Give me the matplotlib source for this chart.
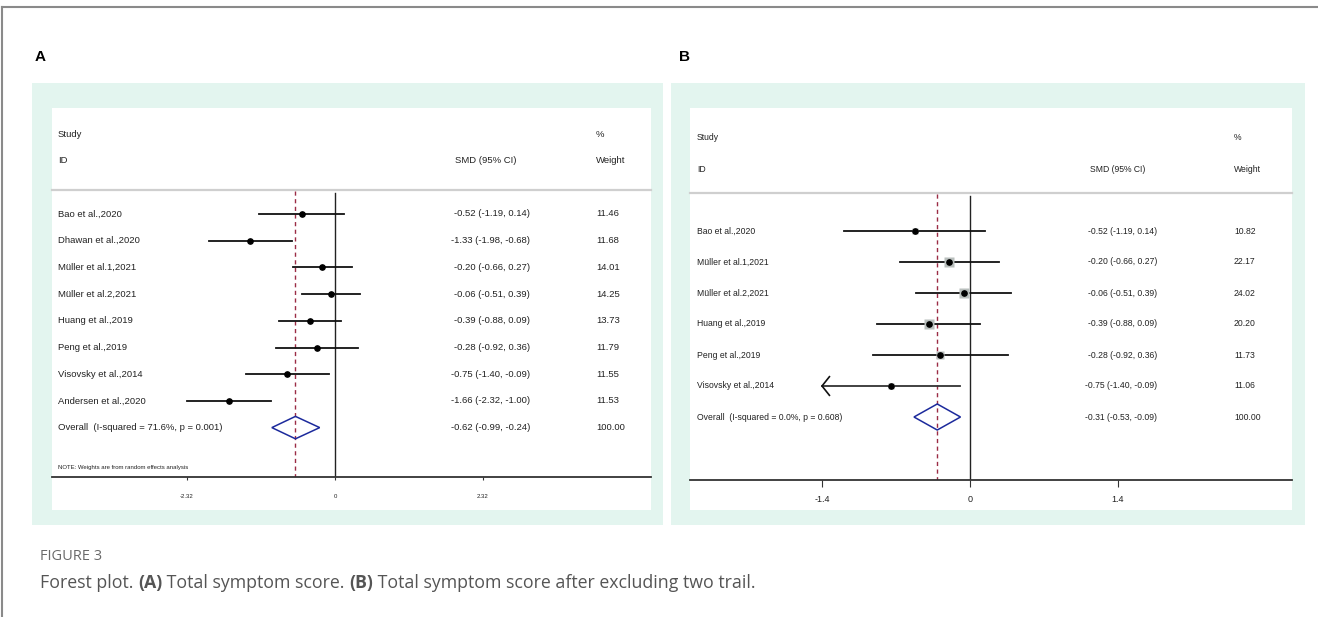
import matplotlib
matplotlib.use("Agg")
import matplotlib.pyplot as plt
from matplotlib.patches import Rectangle, Polygon
from matplotlib.transforms import blended_transform_factory

plt.rcParams['font.family'] = ['Liberation Sans', 'DejaVu Sans']

W, H = 1318, 617

# ---- data: panel A
studies_a = ["Bao et al.,2020", "Dhawan et al.,2020", "Müller et al.1,2021", "Müller et al.2,2021",
             "Huang et al.,2019", "Peng et al.,2019", "Visovsky et al.,2014", "Andersen et al.,2020"]
smd_a = [-0.52, -1.33, -0.20, -0.06, -0.39, -0.28, -0.75, -1.66]
lo_a = [-1.19, -1.98, -0.66, -0.51, -0.88, -0.92, -1.40, -2.32]
hi_a = [0.14, -0.68, 0.27, 0.39, 0.09, 0.36, -0.09, -1.00]
w_a = [11.46, 11.68, 14.01, 14.25, 13.73, 11.79, 11.55, 11.53]
overall_a = [-0.62, -0.99, -0.24]
overall_lab_a = "Overall  (I-squared = 71.6%, p = 0.001)"
ticks_a = [-2.32, 0, 2.32]

# ---- data: panel B
studies_b = ["Bao et al.,2020", "Müller et al.1,2021", "Müller et al.2,2021",
             "Huang et al.,2019", "Peng et al.,2019", "Visovsky et al.,2014"]
smd_b = [-0.52, -0.20, -0.06, -0.39, -0.28, -0.75]
lo_b = [-1.19, -0.66, -0.51, -0.88, -0.92, -1.40]
hi_b = [0.14, 0.27, 0.39, 0.09, 0.36, -0.09]
w_b = [10.82, 22.17, 24.02, 20.20, 11.73, 11.06]
overall_b = [-0.31, -0.53, -0.09]
overall_lab_b = "Overall  (I-squared = 0.0%, p = 0.608)"
ticks_b = [-1.4, 0, 1.4]

GREEN = '#e3f5ef'
DIAMOND = '#1c2a9c'
REFLINE = '#9b2c45'
TXT = '#222222'

fig = plt.figure(figsize=(W / 100, H / 100), dpi=100)
bg = fig.add_axes([0, 0, 1, 1])
bg.set_xlim(0, W)
bg.set_ylim(H, 0)
bg.axis('off')

# outer frame
bg.plot([2, W], [7, 7], color='#8a8a8a', lw=1.5)
bg.plot([2, 2], [7, H], color='#8a8a8a', lw=1.5)

bg.text(35, 57, "A", fontsize=11, fontweight='bold', va='center', ha='left', color='black')
bg.text(679, 57, "B", fontsize=11, fontweight='bold', va='center', ha='left', color='black')

# green panels and white plot areas
bg.add_patch(Rectangle((32, 83), 631, 442, color=GREEN, lw=0))
bg.add_patch(Rectangle((671, 83), 634, 442, color=GREEN, lw=0))
bg.add_patch(Rectangle((52, 108), 599, 402, color='white', lw=0))
bg.add_patch(Rectangle((690, 108), 602, 402, color='white', lw=0))


def px_axes(l, t, r, b):
    return fig.add_axes([l / W, 1 - b / H, (r - l) / W, (b - t) / H])


def forest(ax, l, r, zero_px, unit_px, row0_px, step_px, top_px, bot_px,
           studies, smd, lo, hi, w, overall, overall_lab, ticks, tick_labels,
           fs, tick_fs, cols, head_y, line_y, box_k, clip=None, note=None):
    ax.set_xlim((l - zero_px) / unit_px, (r - zero_px) / unit_px)
    ax.set_ylim((bot_px - row0_px) / step_px, (top_px - row0_px) / step_px)
    ax.patch.set_alpha(0)
    for s in ['top', 'left', 'right']:
        ax.spines[s].set_visible(False)
    ax.spines['bottom'].set_color('#333333')
    ax.spines['bottom'].set_linewidth(1.3)
    ax.set_yticks([])
    ax.set_xticks(ticks)
    ax.set_xticklabels(tick_labels, fontsize=tick_fs, color=TXT)
    ax.tick_params(axis='x', length=cols['ticklen'], width=0.8, color='#333333', pad=cols['pad'])

    tr = blended_transform_factory(ax.transAxes, ax.transData)
    fx = lambda px: (px - l) / (r - l)
    ybot = ax.get_ylim()[0]

    # header
    ax.text(fx(cols['label']), head_y[0], "Study", transform=tr, fontsize=fs, va='center', color=TXT)
    ax.text(fx(cols['label']), head_y[1], "ID", transform=tr, fontsize=fs, va='center', color=TXT)
    ax.text(fx(cols['weight']), head_y[0], "%", transform=tr, fontsize=fs, va='center', color=TXT)
    ax.text(fx(cols['weight']), head_y[1], "Weight", transform=tr, fontsize=fs, va='center', color=TXT)
    ax.text(fx(cols['smd_head']), head_y[1], "SMD (95% CI)", transform=tr, fontsize=fs,
            va='center', ha='center', color=TXT)
    ax.plot([0, 1], [line_y, line_y], transform=tr, color='#cfcfcf', lw=1.6, clip_on=False)

    # reference lines
    ax.plot([0, 0], [line_y + 0.1, ybot], color='#222222', lw=1.0)
    ax.plot([overall[0]] * 2, [line_y + 0.05, ybot], color=REFLINE, lw=1.0, ls=(0, (3, 2.5)))

    n = len(studies)
    for i in range(n):
        ax.text(fx(cols['label']), i, studies[i], transform=tr, fontsize=fs, va='center', color=TXT)
        ax.text(fx(cols['ci']), i, "%.2f (%.2f, %.2f)" % (smd[i], lo[i], hi[i]), transform=tr,
                fontsize=fs, va='center', ha='right', color=TXT)
        ax.text(fx(cols['weight']), i, "%.2f" % w[i], transform=tr, fontsize=fs, va='center', color=TXT)
        side = box_k * w[i] ** 0.5 * 0.72
        ax.plot(smd[i], i, marker='s', ms=side, color='#b9bfbd', mec='none', zorder=3)
        if clip is not None and lo[i] <= -clip:
            # CI runs past the plotted range: draw an open arrowhead
            ax.plot([-clip, hi[i]], [i, i], color='#333333', lw=1.3, zorder=2)
            ax.plot([-clip + 0.07, -clip, -clip + 0.07], [i - 0.3, i, i + 0.3], color='#111111', lw=1.2)
        else:
            ax.plot([lo[i], hi[i]], [i, i], color='#111111', lw=1.3, zorder=2)
        ax.plot(smd[i], i, marker='o', ms=3.8, color='black', zorder=4)

    # overall
    yo = n
    ax.add_patch(Polygon([[overall[1], yo], [overall[0], yo - 0.42], [overall[2], yo],
                          [overall[0], yo + 0.42]], closed=True, fill=False,
                         edgecolor=DIAMOND, lw=1.1, zorder=3))
    ax.text(fx(cols['label']), yo, overall_lab, transform=tr, fontsize=fs, va='center', color=TXT)
    ax.text(fx(cols['ci']), yo, "%.2f (%.2f, %.2f)" % tuple(overall), transform=tr,
            fontsize=fs, va='center', ha='right', color=TXT)
    ax.text(fx(cols['weight']), yo, "100.00", transform=tr, fontsize=fs, va='center', color=TXT)
    if note:
        ax.text(fx(cols['label']), note[0], note[1], transform=tr, fontsize=4.3, va='center', color=TXT)


# panel A
ax_a = px_axes(52, 108, 651, 477)
forest(ax_a, 52, 651, 335, 63.8, 214, 26.7, 108, 477,
       studies_a, smd_a, lo_a, hi_a, w_a, overall_a, overall_lab_a,
       ticks_a, ["-2.32", "0", "2.32"], 6.8, 4.3,
       dict(label=58, ci=530, weight=596, smd_head=486, ticklen=2, pad=10),
       head_y=(-2.96, -1.99), line_y=-0.9, box_k=1.1,
       note=(9.48, "NOTE: Weights are from random effects analysis"))

# panel B
ax_b = px_axes(690, 108, 1292, 480)
forest(ax_b, 690, 1292, 970, 105.7, 231, 31.0, 108, 480,
       studies_b, smd_b, lo_b, hi_b, w_b, overall_b, overall_lab_b,
       ticks_b, ["-1.4", "0", "1.4"], 6.25, 6.5,
       dict(label=697, ci=1157, weight=1234, smd_head=1118, ticklen=5, pad=6),
       head_y=(-3.0, -2.0), line_y=-1.23, box_k=2.1, clip=1.4)

# caption
bg.text(40, 557, "FIGURE 3", fontsize=10.5, color='#6a6a6a', family=['Open Sans', 'DejaVu Sans'],
        va='center', ha='left')
parts = [("Forest plot. ", 'normal'), ("(A)", 'bold'), (" Total symptom score. ", 'normal'),
         ("(B)", 'bold'), (" Total symptom score after excluding two trail.", 'normal')]
renderer = fig.canvas.get_renderer()
x = 40
for s, wt in parts:
    t = bg.text(x, 583, s, fontsize=12.8, color='#555555', fontweight=wt,
                family=['Open Sans', 'DejaVu Sans'], va='center', ha='left')
    bb = t.get_window_extent(renderer=renderer)
    x += bb.width

fig.savefig("out.png", dpi=100)
